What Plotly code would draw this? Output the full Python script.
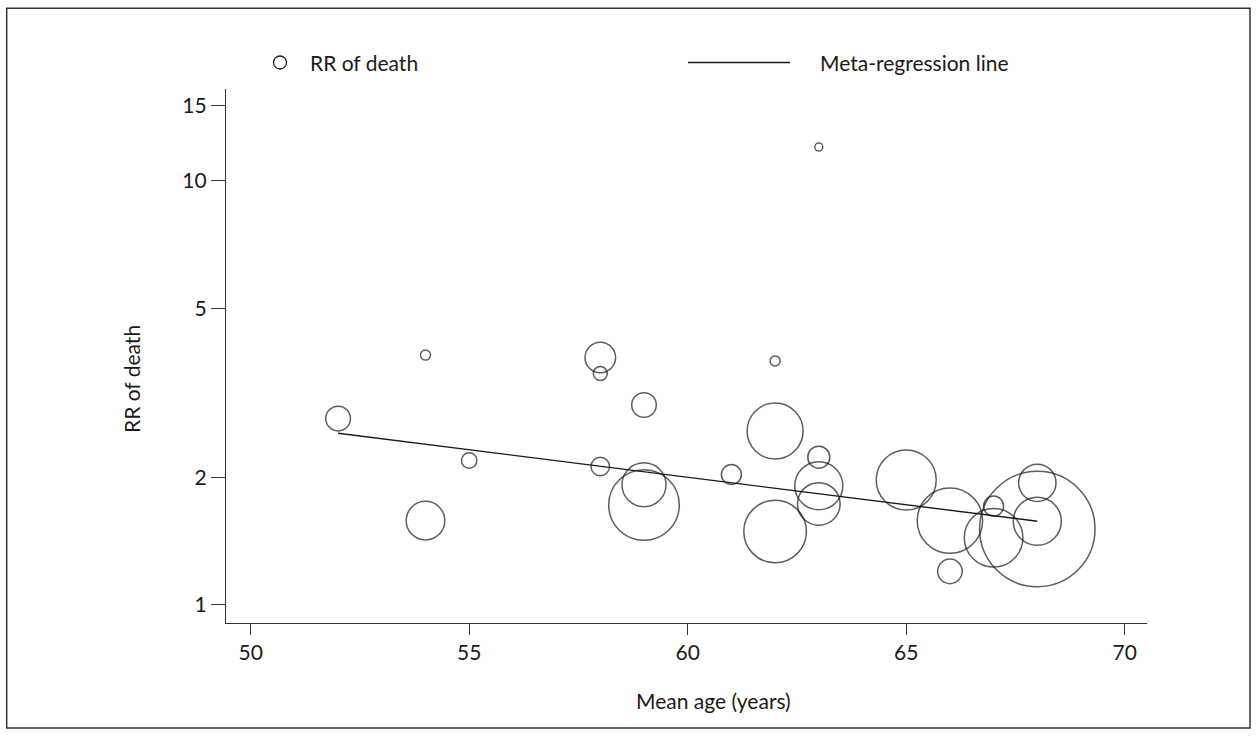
import plotly.graph_objects as go

# ---- data ----
mean_age = [52, 54, 54, 55, 58, 58, 58, 59, 59, 59, 61, 62, 62, 62, 63, 63, 63, 63,
            65, 66, 66, 67, 67, 68, 68, 68]
rr_death = [2.75, 3.88, 1.58, 2.19, 3.83, 3.51, 2.12, 2.96, 1.92, 1.72, 2.03, 3.76, 2.57, 1.49,
            12.0, 2.23, 1.91, 1.73, 1.97, 1.58, 1.20, 1.71, 1.44, 1.94, 1.575, 1.51]
study_weight = [24.7, 10, 38.6, 15.4, 30.6, 14, 18.6, 24.6, 44, 70.6, 20, 10, 56, 62.6,
                8, 22, 48, 42.6, 60, 65.4, 24.6, 20, 58.6, 37.4, 48, 115.4]

reg_age = [52, 68]
reg_rr = [2.54, 1.575]

x_ticks = [50, 55, 60, 65, 70]
y_ticks = [1, 2, 5, 10, 15]

INK = "#1a1a1a"
FONT = "Lato"
FS = 21

fig = go.Figure()
fig.add_trace(go.Scatter(
    x=mean_age, y=rr_death, mode="markers", name="RR of death",
    marker=dict(size=study_weight, sizemode="diameter", sizeref=1,
                color="rgba(0,0,0,0)", line=dict(color=INK, width=1.5)),
    showlegend=False, hoverinfo="x+y"))
fig.add_trace(go.Scatter(
    x=reg_age, y=reg_rr, mode="lines", name="Meta-regression line",
    line=dict(color=INK, width=1.4), showlegend=False))

L, R, T, B = 226, 111, 89, 113
W, H = 1258 - L - R, 736 - T - B


def px(xp):
    return (xp - L) / W


def py(yp):
    return (736 - B - yp) / H


shapes = [
    # outer frame
    dict(type="rect", xref="paper", yref="paper", x0=px(6.7), x1=px(1250),
         y0=py(728), y1=py(8.3), line=dict(color="#333333", width=1.5)),
    # legend circle
    dict(type="circle", xref="paper", yref="paper", x0=px(273.5), x1=px(286.5),
         y0=py(69), y1=py(56), line=dict(color=INK, width=1.3)),
    # legend line
    dict(type="line", xref="paper", yref="paper", x0=px(688), x1=px(790),
         y0=py(62.5), y1=py(62.5), line=dict(color=INK, width=1.4)),
]

annotations = [
    dict(text="RR of death", xref="paper", yref="paper", x=px(308), y=py(62.5),
         xanchor="left", yanchor="middle", showarrow=False,
         font=dict(family=FONT, size=FS, color=INK)),
    dict(text="Meta-regression line", xref="paper", yref="paper", x=px(818), y=py(62.5),
         xanchor="left", yanchor="middle", showarrow=False,
         font=dict(family=FONT, size=FS, color=INK)),
    dict(text="Mean age (years)", xref="paper", yref="paper", x=px(713), y=py(700),
         xanchor="center", yanchor="middle", showarrow=False,
         font=dict(family=FONT, size=FS, color=INK)),
    dict(text="RR of death", xref="paper", yref="paper", x=px(131), y=py(379),
         xanchor="center", yanchor="middle", showarrow=False, textangle=-90,
         font=dict(family=FONT, size=FS, color=INK)),
]

fig.update_layout(
    width=1258, height=736,
    margin=dict(l=L, r=R, t=T, b=B, pad=0),
    paper_bgcolor="white", plot_bgcolor="white",
    font=dict(family=FONT, size=FS, color=INK),
    shapes=shapes, annotations=annotations,
    xaxis=dict(range=[49.435, 70.51], tickvals=x_ticks, ticktext=[str(v) for v in x_ticks],
               ticks="outside", ticklen=11, tickwidth=1.4, tickcolor="#333333",
               showline=True, linecolor="#333333", linewidth=1.4,
               showgrid=False, zeroline=False),
    yaxis=dict(type="log", range=[-0.0425, 1.216], tickvals=y_ticks,
               ticktext=[str(v) for v in y_ticks],
               ticks="outside", ticklen=14, tickwidth=1.4, tickcolor="#333333",
               showline=True, linecolor="#333333", linewidth=1.4,
               showgrid=False, zeroline=False),
)

fig.write_html("out.html")
